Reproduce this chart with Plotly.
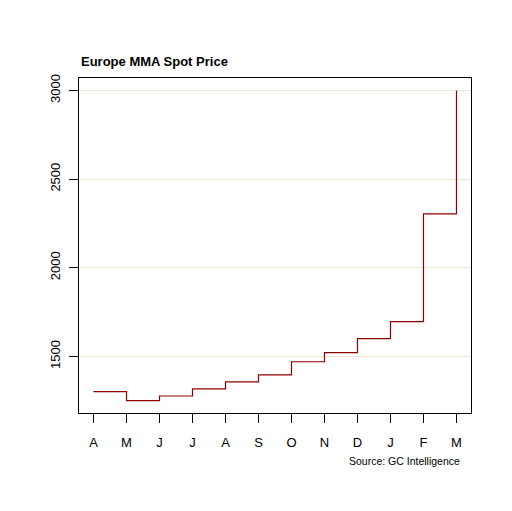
import plotly.graph_objects as go

months = ['A', 'M', 'J', 'J', 'A', 'S', 'O', 'N', 'D', 'J', 'F', 'M']
price = [1302, 1251, 1277, 1317, 1357, 1396, 1470, 1521, 1600, 1696, 2304, 3000]
y_ticks = [1500, 2000, 2500, 3000]

x_pos = list(range(len(months)))

fig = go.Figure(go.Scatter(
    x=x_pos,
    y=price,
    mode='lines',
    line_shape='hv',
    line=dict(color='#8b0000', width=1.2),
    showlegend=False,
))

axis_font = dict(family='Liberation Sans, Arial, sans-serif', size=13, color='black')

# page body adds 8px, so margins are trimmed by that amount on the left/top
fig.update_layout(
    width=512,
    height=511,
    margin=dict(l=71, r=49, t=70, b=106),
    paper_bgcolor='white',
    plot_bgcolor='white',
    xaxis=dict(
        range=[-0.44, len(months) - 1 + 0.44],
        tickvals=x_pos,
        ticktext=months,
        ticks='outside',
        ticklen=9,
        tickcolor='black',
        ticklabelstandoff=8,
        showgrid=False,
        zeroline=False,
        showline=True,
        linecolor='black',
        linewidth=1,
        mirror=True,
        automargin=False,
        tickfont=axis_font,
    ),
    yaxis=dict(
        range=[1181, 3070],
        tickvals=y_ticks,
        ticks='outside',
        ticklen=9,
        tickcolor='black',
        tickangle=-90,
        ticklabelstandoff=4,
        showgrid=True,
        gridcolor='#ece6d2',
        gridwidth=1,
        zeroline=False,
        showline=True,
        linecolor='black',
        linewidth=1,
        mirror=True,
        automargin=False,
        tickfont=axis_font,
    ),
    annotations=[
        dict(
            text='<b>Europe MMA Spot Price</b>',
            x=0, y=1 + (78 - 61) / 335, xref='paper', yref='paper',
            showarrow=False, xanchor='left', yanchor='middle',
            font=dict(family='Liberation Sans, Arial, sans-serif', size=13, color='black'),
        ),
        dict(
            text='Source: GC Intelligence',
            x=(462 - 79) / 392, y=-(461 - 413) / 335, xref='paper', yref='paper',
            showarrow=False, xanchor='right', yanchor='middle',
            font=dict(family='Liberation Sans, Arial, sans-serif', size=10.5, color='black'),
        ),
    ],
)

fig.write_html('out.html')
